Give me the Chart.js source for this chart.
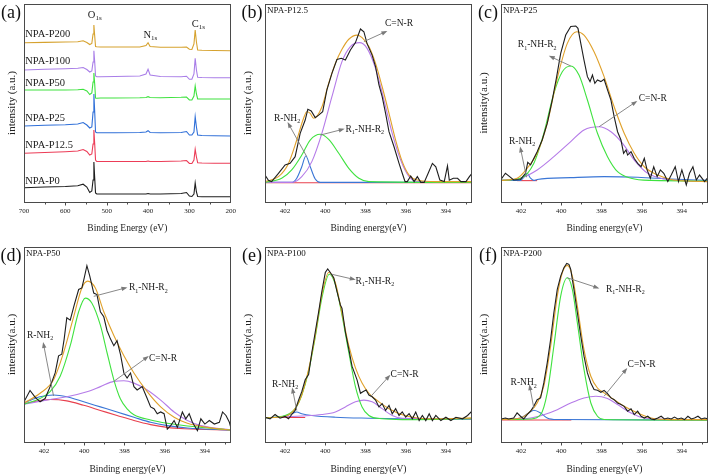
<!DOCTYPE html>
<html>
<head>
<meta charset="utf-8">
<script src="https://cdn.jsdelivr.net/npm/chart.js@4/dist/chart.umd.min.js"></script>
<style>
  body { margin: 0; background: #fff; width: 709px; height: 476px; position: relative; overflow: hidden; }
  canvas { position: absolute; }
</style>
</head>
<body>
<canvas id="pa" width="241" height="236" style="left:0;top:0"></canvas>
<canvas id="pb" width="231" height="236" style="left:241px;top:0"></canvas>
<canvas id="pc" width="232" height="236" style="left:477px;top:0"></canvas>
<canvas id="pd" width="241" height="233" style="left:0;top:243px"></canvas>
<canvas id="pe" width="231" height="233" style="left:241px;top:243px"></canvas>
<canvas id="pf" width="232" height="233" style="left:477px;top:243px"></canvas>
<script>
// ---- survey spectra (a), offset intensities ----
const SURVEY_E = [700, 650, 600, 570, 557, 548, 541, 536, 533, 531, 529, 527, 524, 515, 480, 420, 405, 400, 395, 370, 320, 307, 300, 294, 289, 286, 283, 280, 270, 240, 200];
const P0    = [14.3, 15, 15.5, 16.3, 17.8, 15, 9.5, 11, 22, 40, 24, 9, 8, 8, 8, 8, 8, 8.5, 8, 8, 8.5, 9.5, 6, 5.5, 8, 19, 10, 5.5, 5.3, 5.3, 5.3];
const P12_5 = [48.7, 49.5, 50.3, 51, 52.5, 50.5, 47, 48, 58, 72, 58, 42, 40.5, 40.5, 40.5, 40.5, 40.5, 41, 40.5, 40.5, 41, 41.5, 38.5, 38.5, 42, 52.7, 45, 39.3, 39, 38.8, 38.7];
const P25   = [76, 76.8, 77.3, 78, 79.5, 77, 74, 75, 90, 108, 90, 70, 69.3, 69.3, 69.3, 69.5, 70, 71.3, 69.5, 69.3, 69.5, 70.5, 67, 67, 70, 85.3, 75, 67, 66.5, 66.2, 66];
const P50   = [112, 112, 112, 112.3, 112.8, 111, 107.5, 109, 120, 129, 118, 104, 103.7, 104, 104, 104.2, 104.5, 105.3, 104.5, 104.3, 104.7, 105, 102, 102, 106, 116, 108, 103, 103, 103, 103];
const P100  = [132, 132.7, 133.2, 133.7, 134.5, 132.5, 130, 131, 140, 151.3, 140, 126, 125.3, 125.3, 125.5, 126, 128, 132.7, 127, 125.5, 125.3, 125.8, 122.7, 122.7, 128, 143.7, 132, 124.7, 124.5, 124.3, 124.3];
const P200  = [159.3, 159.6, 160, 160.3, 161.2, 159.5, 157.5, 158.5, 168, 177, 166, 155.5, 155.3, 155, 155, 155, 156.5, 159.3, 155.5, 154.7, 154.7, 155, 152.7, 152.5, 158, 172, 160, 152, 151.8, 151.5, 151.3];
const SURVEY_NAMES = ['NPA-P0', 'NPA-P12.5', 'NPA-P25', 'NPA-P50', 'NPA-P100', 'NPA-P200'];
const SURVEY_TICKS = [700, 600, 500, 400, 300, 200];

// ---- N1s high resolution panels, [binding energy, intensity] ----
const N1S_TICKS = [402, 400, 398, 396, 394];

const b_raw = [[403,13.6],[402.83,11],[402.67,10.3],[402.33,14.5],[402,18.7],[401.75,19.5],[401.5,22.9],[401.25,34.7],[401,41.4],[400.87,46.8],[400.7,46],[400.5,42.6],[400.33,43.9],[400.13,45.6],[399.92,56.6],[399.67,65],[399.42,72],[399.2,72.6],[399,71.7],[398.75,76.8],[398.5,80.5],[398.25,87.4],[398.08,86],[397.92,80],[397.67,74.2],[397.5,68.4],[397.33,59.1],[397.17,53.2],[397,44.8],[396.83,35.5],[396.58,27.9],[396.33,19.5],[396.17,14.5],[396.03,10.3],[395.92,10.3],[395.75,13.1],[395.58,10.3],[395.42,12.8],[395.25,9.9],[395.08,9.9],[394.87,14.8],[394.67,19.5],[394.5,17.8],[394.3,11.1],[394.08,10.3],[393.92,18.2],[393.83,11],[393.63,12],[393.42,12],[393.25,10.3],[393,10.3],[392.83,12.8],[392.7,14.5]];
const b_fit = [[403,10.3],[402.33,12.8],[401.83,19.5],[401.42,31.3],[401.08,42.3],[400.92,45.6],[400.75,44.8],[400.58,42.3],[400.17,48],[399.83,60],[399.5,70],[399.17,77.1],[398.83,82.2],[398.42,84.3],[398.17,83],[397.83,78.5],[397.5,70],[397.17,58.2],[396.83,44.8],[396.5,31.3],[396.17,20.4],[395.83,13.6],[395.42,11.1],[394.5,10.3],[392.7,10.3]];
const b_cnr = [[403,9.9],[401.67,9.9],[401.17,12.8],[400.67,20.4],[400.17,34.7],[399.67,53.2],[399.17,70.9],[398.75,78.5],[398.3,80.5],[397.92,77.6],[397.5,67.5],[397.08,51.5],[396.67,34.7],[396.25,21.2],[395.83,12.8],[395.42,10.3],[392.7,9.9]];
const b_nh = [[403,9.9],[402.17,12],[401.67,16.2],[401.17,23.7],[400.75,31.3],[400.25,34.2],[399.83,31.6],[399.33,24.6],[398.83,17],[398.33,12],[397.83,10.3],[392.7,9.9]];
const b_nh2 = [[403,9.9],[401.67,9.9],[401.42,12],[401.17,17.8],[400.97,23.2],[400.75,17.8],[400.5,11.6],[400.25,9.9],[392.7,9.9]];
const b_base = [[403,9.7],[392.7,9.7]];

const c_raw = [[403,11.4],[402.78,14.5],[402.57,12.8],[402.37,11.1],[402.03,11.4],[401.78,14.5],[401.67,20],[401.53,18.7],[401.37,22],[401.2,25.4],[400.95,31.3],[400.7,39.7],[400.45,51.5],[400.23,63.3],[400.03,75.1],[399.78,84.3],[399.53,88.6],[399.28,88.9],[399.17,87.7],[399.03,80.1],[398.87,71.7],[398.7,63.3],[398.57,60.8],[398.45,64.1],[398.33,59.9],[398.2,61.6],[398.03,60.8],[397.87,62],[397.7,56.6],[397.53,51.5],[397.37,43.1],[397.2,35.5],[397.03,31.3],[396.9,24.6],[396.78,26.3],[396.7,23.7],[396.53,25.4],[396.37,22],[396.2,19.5],[396.03,17.8],[395.87,22],[395.73,16.2],[395.57,12],[395.4,17.8],[395.23,12.8],[395.07,16.2],[394.9,14.5],[394.7,10.3],[394.53,13.6],[394.33,17.8],[394.17,10.3],[394,16.2],[393.78,8.6],[393.62,14.5],[393.45,17.8],[393.28,11.1],[393.12,13.6],[392.87,10.3],[392.67,12.8]];
const c_fit = [[403,10.9],[402.2,12],[401.7,17],[401.2,24.6],[400.7,39.7],[400.2,62.5],[399.7,80.1],[399.23,86],[398.87,84.3],[398.37,75.9],[397.87,63.3],[397.37,48.1],[396.87,34.7],[396.37,24.6],[395.87,17.8],[395.2,13.6],[394.53,11.4],[393.7,10.6],[392.67,10.3]];
const c_nh = [[403,10.9],[402.03,12],[401.37,19.5],[400.87,34.7],[400.37,54.9],[399.95,65.8],[399.53,68.7],[399.12,64.1],[398.7,51.5],[398.2,34.7],[397.7,22.9],[397.2,15.3],[396.53,12],[395.53,10.9],[392.67,10.6]];
const c_cnr = [[403,10.9],[402.03,12],[401.2,16.2],[400.37,22.9],[399.53,30.5],[398.87,36.4],[398.12,38],[397.53,35.5],[396.95,29.6],[396.37,21.2],[395.7,14.5],[394.87,11.6],[393.87,10.8],[392.67,10.3]];
const c_nh2 = [[403,10.9],[402.03,10.9],[401.87,12.5],[401.7,14.5],[401.53,12],[401.37,10.9],[401.2,11.4],[399.53,12.3],[397.87,12.8],[396.2,12.5],[394.53,11.6],[392.67,10.9]];
const c_base = [[402.2,10.8],[401.2,10.8]];

const d_raw = [[403,20.6],[402.7,26.4],[402.45,23],[402.2,20.6],[401.95,22.3],[401.7,28.4],[401.45,35.4],[401.28,44.2],[401.12,45],[401,52.9],[400.87,63.7],[400.7,62.5],[400.5,70.3],[400.28,78.2],[400.12,79],[400,84.3],[399.87,90.4],[399.73,85.2],[399.53,76.4],[399.37,75.6],[399.2,66.8],[399.03,64.2],[398.87,57.2],[398.7,52.9],[398.53,49.4],[398.37,52],[398.2,45],[398.03,35.4],[397.87,32.8],[397.7,35.4],[397.53,28.4],[397.37,26.7],[397.12,28.4],[396.87,22.3],[396.7,18],[396.53,17.1],[396.37,14.5],[396.2,15.4],[396.03,14.5],[395.87,6.6],[395.7,8.4],[395.53,11],[395.37,7.5],[395.12,15.4],[394.95,11.9],[394.78,14.5],[394.62,10.1],[394.37,5.8],[394.2,11.9],[394,9.2],[393.78,11],[393.53,9.2],[393.28,10.1],[393.12,15.4],[392.95,13.6],[392.78,10.1],[392.67,5.8]];
const d_fit = [[403,20],[402.2,25],[401.53,31.9],[401.03,45.9],[400.53,64.2],[400.12,79],[399.83,82.5],[399.45,79],[399.03,66.8],[398.53,54.6],[398.03,44.2],[397.53,35.4],[396.87,25.8],[396.2,18],[395.53,12.7],[394.87,9.6],[393.87,7.5],[392.67,6.1]];
const d_nh = [[403,19.4],[402.2,22.3],[401.7,25.8],[401.2,33.7],[400.7,49.4],[400.28,66.8],[399.95,73.8],[399.62,71.2],[399.2,59.9],[398.87,45.9],[398.53,31.9],[398.2,22],[397.87,17],[397.53,14],[396.7,11.3],[395.87,9.6],[394.87,8.2],[392.67,6.1]];
const d_cnr = [[403,19.4],[401.7,21.8],[400.87,23.2],[399.87,25.8],[399.2,28.4],[398.53,31.1],[398.03,31.4],[397.53,30.2],[396.87,26.7],[396.2,21.5],[395.53,15.4],[394.87,11],[394.2,8.4],[392.67,6.1]];
const d_nh2 = [[403,20],[402.2,23.2],[401.53,24.1],[400.87,23.2],[400.03,20.6],[399.2,18],[398.37,15.4],[397.53,12.7],[396.7,10.1],[395.87,8.4],[394.87,7.2],[392.67,6.1]];
const d_base = [[403,19.7],[401.7,21.8],[400.87,21.1],[400.03,18.8],[399.2,16.2],[398.37,13.6],[397.53,11],[396.7,8.9],[395.87,7.5],[395.03,6.8],[392.67,6.1]];

const e_raw = [[403,12.7],[402.75,11.9],[402.5,14.1],[402.25,12.2],[402,13.1],[401.83,11.9],[401.67,14.1],[401.5,16.2],[401.33,21.5],[401.17,25.8],[401,31.9],[400.83,34.6],[400.67,45.9],[400.5,56.4],[400.33,66.8],[400.17,77.3],[400,86.9],[399.88,88.7],[399.75,86.9],[399.58,84.3],[399.42,77.3],[399.25,70.3],[399.17,68.6],[399,56.4],[398.83,47.6],[398.67,38.9],[398.42,31.9],[398.25,25],[398.13,25.8],[397.97,26.7],[397.83,24.1],[397.67,23.2],[397.5,21.5],[397.33,18],[397.17,19.7],[397,16.2],[396.83,18.8],[396.67,14.5],[396.5,17.1],[396.33,13.6],[396.17,15.4],[396,12.7],[395.83,14.5],[395.67,11.9],[395.5,15.4],[395.33,11],[395.17,13.6],[395,11],[394.83,14.5],[394.67,11],[394.5,13.6],[394.25,11],[394,12.7],[393.75,11],[393.5,12.7],[393.17,11.9],[392.92,13.6],[392.75,15.4],[392.67,12.7]];
const e_fit = [[403,12.4],[402,13.1],[401.5,17.1],[401.17,24.1],[400.83,37.2],[400.5,54.6],[400.17,75.6],[399.83,86.9],[399.5,81.7],[399.17,66],[398.83,49.4],[398.5,38],[398.17,30.2],[397.83,25],[397.33,20.6],[396.83,17.1],[396.17,14],[395.33,12.2],[394.5,11.9],[392.67,12.4]];
const e_nh = [[403,12.4],[402,13.6],[401.5,17.1],[401.17,24.1],[400.83,36.3],[400.5,53.8],[400.17,73.8],[399.8,86],[399.5,80.8],[399.17,65.1],[398.83,45.9],[398.5,28.4],[398.17,18],[397.83,13.6],[397.17,11.9],[396.17,11.5],[392.67,11.9]];
const e_cnr = [[403,12.4],[401.17,13.3],[400.17,14.1],[399.5,15.4],[399,18],[398.5,20.6],[398.08,21.5],[397.67,20.6],[397.17,17.1],[396.67,13.6],[396.17,12.2],[392.67,11.9]];
const e_nh2 = [[403,12.4],[402,13.3],[401.67,14.5],[401.42,15.4],[401.17,14.5],[400.67,13.6],[399.5,12.7],[397.83,12.2],[396.17,11.9],[392.67,11.7]];
const e_base = [[403,12.6],[401,12.6]];

const f_raw = [[403,11.8],[402.78,12.3],[402.62,11.8],[402.37,12.3],[402.2,14.9],[402.03,13.2],[401.87,11.8],[401.7,14],[401.53,15.8],[401.37,18.3],[401.2,21.7],[401.03,22.6],[400.87,30.3],[400.7,40.6],[400.53,52.6],[400.37,66.3],[400.2,78.3],[400.03,85.1],[399.87,89.4],[399.73,91.6],[399.62,91.1],[399.53,88.5],[399.37,78.3],[399.2,66.3],[399.03,54.3],[398.87,44],[398.7,35.4],[398.53,30.3],[398.37,26.9],[398.2,26.5],[398.03,25.5],[397.87,26.5],[397.7,24.8],[397.53,22.6],[397.37,21.7],[397.2,20],[397.03,19.2],[396.87,18.3],[396.7,15.8],[396.53,17],[396.37,14],[396.2,15.8],[396.03,13.2],[395.87,12.3],[395.7,13.2],[395.53,11.8],[395.37,11.5],[395.2,12.3],[395.03,13.2],[394.87,11.8],[394.7,12.3],[394.53,11.8],[394.37,12.8],[394.2,11.8],[394.03,12.3],[393.87,11.5],[393.7,13.2],[393.53,11.8],[393.37,12.3],[393.2,13.2],[393.03,11.8],[392.87,12.3],[392.67,11.8]];
const f_fit = [[403,11.5],[402.03,12.3],[401.53,15.8],[401.2,20],[400.87,28.6],[400.53,49.1],[400.2,74.8],[399.95,86.8],[399.7,90.6],[399.45,85.1],[399.2,69.7],[398.87,47.4],[398.53,33.7],[398.2,27.7],[397.87,25.2],[397.37,21.7],[396.87,18.3],[396.2,14.9],[395.53,12.3],[394.53,11.5],[392.67,11.5]];
const f_nh = [[403,11.5],[401.53,11.8],[401.03,14],[400.7,25.2],[400.37,49.1],[400.03,74.8],[399.7,84.2],[399.45,78.3],[399.2,61.1],[398.87,37.2],[398.53,20],[398.2,13.2],[397.87,11.5],[392.67,11.2]];
const f_cnr = [[403,11.5],[401.53,12.3],[400.87,14],[400.2,16.6],[399.53,20],[398.87,22.6],[398.28,23.5],[397.7,22.3],[397.2,19.2],[396.53,14.9],[395.87,12.3],[392.67,11.2]];
const f_nh2 = [[403,11.5],[402.03,12.3],[401.62,14.9],[401.37,16.3],[401.03,14.9],[400.7,12.3],[400.2,11.5],[392.67,11.2]];
const f_base = [[403,11.3],[399.5,11.3]];

// label text pieces: [text, isSubscript]
const LBL_NH = [['R', 0], ['1', 1], ['-NH-R', 0], ['2', 1]];
const LBL_NH2 = [['R-NH', 0], ['2', 1]];
const LBL_CNR = [['C=N-R', 0]];

const FONT = '"Liberation Serif", "DejaVu Serif", serif';
const C = { raw: '#1e1e1e', fit: '#e0a12a', green: '#3fe23f', purple: '#b57be8', blue: '#3a76d6', red: '#e8404e' };
const SURVEY_COLORS = ['#1e1e1e', '#ec3c57', '#2f6fd8', '#3fe23f', '#a97ee8', '#d6a22e'];

function line(points, color, smooth){
  return { data: points.map(([x, y]) => ({x, y})), borderColor: color, borderWidth: 1.1,
    pointRadius: 0, tension: 0, cubicInterpolationMode: smooth ? 'monotone' : 'default', fill: false };
}

function drawRich(ctx, parts, x, y, size, align){
  const sub = Math.round(size * 0.68);
  let w = 0;
  parts.forEach(([t, s]) => { ctx.font = `${s ? sub : size}px ${FONT}`; w += ctx.measureText(t).width; });
  let cx = align === 'center' ? x - w / 2 : x;
  ctx.textAlign = 'left'; ctx.textBaseline = 'middle';
  parts.forEach(([t, s]) => {
    ctx.font = `${s ? sub : size}px ${FONT}`;
    ctx.fillText(t, cx, s ? y + size * 0.32 : y);
    cx += ctx.measureText(t).width;
  });
}

function drawArrow(ctx, x1, y1, x2, y2){
  const ang = Math.atan2(y2 - y1, x2 - x1);
  ctx.beginPath(); ctx.moveTo(x1, y1); ctx.lineTo(x2, y2); ctx.stroke();
  ctx.beginPath();
  ctx.moveTo(x2 + Math.cos(ang) * 2, y2 + Math.sin(ang) * 2);
  ctx.lineTo(x2 - Math.cos(ang) * 4 + Math.sin(ang) * 2.2, y2 - Math.sin(ang) * 4 - Math.cos(ang) * 2.2);
  ctx.lineTo(x2 - Math.cos(ang) * 4 - Math.sin(ang) * 2.2, y2 - Math.sin(ang) * 4 + Math.cos(ang) * 2.2);
  ctx.closePath(); ctx.fill();
}

const notesPlugin = {
  id: 'notes',
  afterDatasetsDraw(chart, args, o){
    const {ctx, chartArea: a, scales: {x, y}} = chart;
    ctx.save();
    ctx.strokeStyle = '#4a4a4a'; ctx.lineWidth = 1;
    const L = Math.round(a.left) + 0.5, T = Math.round(a.top) + 0.5, B = Math.round(a.bottom) + 0.5;
    ctx.strokeRect(L, T, Math.round(a.right - a.left) - 1, Math.round(a.bottom - a.top));
    // tick marks along the bottom axis
    x.ticks.forEach(t => {
      if (t.value <= x.min || t.value >= x.max) return;
      const px = Math.round(x.getPixelForValue(t.value)) + 0.5;
      const len = t.label !== '' ? 3 : 2;
      ctx.beginPath(); ctx.moveTo(px, B); ctx.lineTo(px, B + len); ctx.stroke();
    });
    ctx.fillStyle = '#111';
    ctx.font = `18px ${FONT}`; ctx.textAlign = 'center'; ctx.textBaseline = 'middle';
    ctx.fillText(o.letter, a.left - 13, a.top + 9);
    if (o.sample) { ctx.font = `9px ${FONT}`; ctx.textAlign = 'left'; ctx.fillText(o.sample, a.left + 2, a.top + 7); }
    ctx.strokeStyle = '#7a7a7a'; ctx.fillStyle = '#7a7a7a'; ctx.lineWidth = 0.9;
    (o.arrows || []).forEach(([x1, y1, x2, y2]) => drawArrow(ctx, x.getPixelForValue(x1), y.getPixelForValue(y1), x.getPixelForValue(x2), y.getPixelForValue(y2)));
    ctx.fillStyle = '#1a1a1a';
    (o.labels || []).forEach(l => drawRich(ctx, l.parts, x.getPixelForValue(l.x), y.getPixelForValue(l.y), l.size || 9.5, l.align || 'left'));
    ctx.restore();
  }
};

function makePanel(id, p){
  return new Chart(document.getElementById(id), {
    type: 'line',
    data: { datasets: p.datasets },
    plugins: [notesPlugin],
    options: {
      responsive: false, animation: false, events: [],
      layout: { padding: { top: 4, right: p.padRight, left: 0, bottom: 0 } },
      plugins: { legend: { display: false }, tooltip: { enabled: false },
        notes: { letter: p.letter, sample: p.sample, labels: p.labels, arrows: p.arrows } },
      scales: {
        x: {
          type: 'linear', reverse: true, min: p.xMin, max: p.xMax,
          grid: { display: false, drawTicks: false }, border: { display: false },
          ticks: { stepSize: p.step, autoSkip: false, maxRotation: 0, includeBounds: false, padding: 5,
            color: '#222', font: { family: FONT, size: 7 },
            callback: v => p.tickLabels.includes(v) ? String(v) : '' },
          title: { display: true, text: p.xTitle, color: '#222', font: { family: FONT, size: 9.5 }, padding: { top: 0, bottom: p.xTitlePad } },
          afterFit: s => { s.height = 34; }
        },
        y: {
          min: 0, max: p.yMax,
          grid: { display: false, drawTicks: false }, border: { display: false },
          ticks: { display: false },
          title: { display: true, text: p.yTitle, color: '#222', font: { family: FONT, size: 11 }, padding: { top: p.yTitlePad, bottom: 0 } },
          afterFit: s => { s.width = 24; }
        }
      }
    }
  });
}

function n1sPanel(id, letter, sample, curves, labels, arrows, yTitle, opts){
  const [raw, fit, nh, cnr, nh2, base] = curves;
  makePanel(id, Object.assign({
    letter, sample, labels, arrows, yTitle,
    xMin: 392.7, xMax: 403, step: 1, tickLabels: N1S_TICKS, yMax: 100,
    xTitle: 'Binding energy(eV)', padRight: 0, yTitlePad: 0.4,
    datasets: [line(raw, C.raw, false), line(fit, C.fit, true), line(nh, C.green, true),
      line(cnr, C.purple, true), line(nh2, C.blue, true), line(base, C.red, true)]
  }, opts));
}

// (a) survey
const surveySeries = [P0, P12_5, P25, P50, P100, P200];
makePanel('pa', {
  letter: '(a)', xMin: 200, xMax: 700, step: 50, tickLabels: SURVEY_TICKS, yMax: 198,
  xTitle: 'Binding Energy (eV)', yTitle: 'intensity (a.u.)', padRight: 10, yTitlePad: 5.4, xTitlePad: 2,
  datasets: surveySeries.map((s, i) => ({ data: SURVEY_E.map((e, k) => ({x: e, y: s[k]})), borderColor: SURVEY_COLORS[i],
    borderWidth: 1.1, pointRadius: 0, tension: 0, fill: false })),
  labels: [
    {parts: [[SURVEY_NAMES[5], 0]], x: 697, y: 167.7, size: 10.5},
    {parts: [[SURVEY_NAMES[4], 0]], x: 697, y: 140.3, size: 10.5},
    {parts: [[SURVEY_NAMES[3], 0]], x: 697, y: 118.7, size: 10.5},
    {parts: [[SURVEY_NAMES[2], 0]], x: 697, y: 83.7, size: 10.5},
    {parts: [[SURVEY_NAMES[1], 0]], x: 697, y: 56.3, size: 10.5},
    {parts: [[SURVEY_NAMES[0], 0]], x: 697, y: 20.3, size: 10.5},
    {parts: [['O', 0], ['1s', 1]], x: 529, y: 187, size: 10.5, align: 'center'},
    {parts: [['N', 0], ['1s', 1]], x: 394.4, y: 167, size: 10.5, align: 'center'},
    {parts: [['C', 0], ['1s', 1]], x: 278.5, y: 178, size: 10.5, align: 'center'}
  ]
});

n1sPanel('pb', '(b)', 'NPA-P12.5', [b_raw, b_fit, b_nh, b_cnr, b_nh2, b_base],
  [{parts: LBL_CNR, x: 396.33, y: 89.9, align: 'center'},
   {parts: LBL_NH, x: 399.0, y: 36.7},
   {parts: LBL_NH2, x: 401.9, y: 42.3, align: 'center'}],
  [[398.08, 81, 397.0, 86], [400.25, 33.8, 399.13, 36.7], [400.92, 22.9, 401.83, 39.5]],
  'intensity (a.u.)', {xTitlePad: 2});

n1sPanel('pc', '(c)', 'NPA-P25', [c_raw, c_fit, c_nh, c_cnr, c_nh2, c_base],
  [{parts: LBL_NH, x: 401.2, y: 79.3, align: 'center'},
   {parts: LBL_CNR, x: 395.45, y: 52.4, align: 'center'},
   {parts: LBL_NH2, x: 401.95, y: 30.5, align: 'center'}],
  [[399.53, 68.7, 400.53, 73.4], [398.12, 38, 396.3, 50.5], [401.73, 12.5, 402.03, 27.1]],
  'intensity(a.u.)', {xTitlePad: 2, padRight: 1});

n1sPanel('pd', '(d)', 'NPA-P50', [d_raw, d_fit, d_nh, d_cnr, d_nh2, d_base],
  [{parts: LBL_NH, x: 397.78, y: 79},
   {parts: LBL_CNR, x: 396.78, y: 42.8},
   {parts: LBL_NH2, x: 402.2, y: 54.6, align: 'center'}],
  [[399.53, 74.7, 397.95, 79], [398.53, 31.1, 396.87, 43.5], [401.53, 23.6, 402.03, 50.3]],
  'intensity(a.u.)', {xTitlePad: 1, padRight: 10, yTitlePad: 5.4});

n1sPanel('pe', '(e)', 'NPA-P100', [e_raw, e_fit, e_nh, e_cnr, e_nh2, e_base],
  [{parts: LBL_NH, x: 398.5, y: 82.5},
   {parts: LBL_CNR, x: 396.75, y: 34.6},
   {parts: LBL_NH2, x: 402, y: 29.3, align: 'center'}],
  [[399.67, 86, 398.58, 83.4], [397.75, 23.2, 396.83, 33.7], [401.42, 16.2, 401.63, 27]],
  'intensity(a.u.)', {xTitlePad: 1});

n1sPanel('pf', '(f)', 'NPA-P200', [f_raw, f_fit, f_nh, f_cnr, f_nh2, f_base],
  [{parts: LBL_NH, x: 397.78, y: 78.3},
   {parts: LBL_CNR, x: 396.7, y: 39.7},
   {parts: LBL_NH2, x: 401.87, y: 30.3, align: 'center'}],
  [[399.7, 84.2, 398.2, 79.1], [397.87, 23.5, 396.78, 37.2], [401.37, 17.5, 401.57, 28.6]],
  'intensity(a.u.)', {xTitlePad: 1, padRight: 1});
</script>
</body>
</html>
